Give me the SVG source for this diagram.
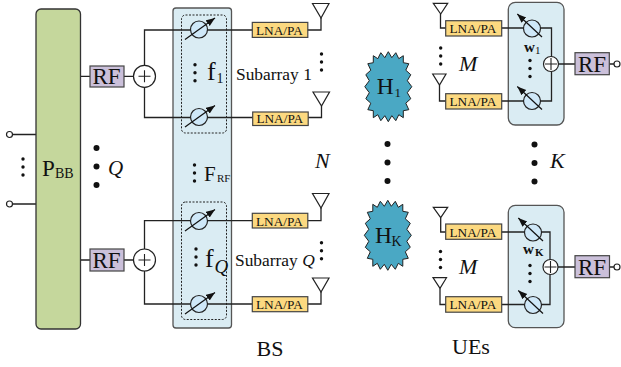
<svg xmlns="http://www.w3.org/2000/svg" width="621" height="367" viewBox="0 0 621 367">
<style>
text{font-family:"Liberation Serif","Times New Roman",serif;fill:#111}
.i{font-style:italic}
.c{fill:none;stroke:#222;stroke-width:1.3}
.panel{fill:#daecf3;stroke:#555;stroke-width:1.3}
.dash{fill:none;stroke:#222;stroke-width:1;stroke-dasharray:2 1.5}
.rf{fill:#cbc0da;stroke:#444;stroke-width:1.2}
.lna{fill:#fcd980;stroke:#444;stroke-width:1.2}
.ant{fill:#fff;stroke:#222;stroke-width:1.2}
.sum{fill:#fff;stroke:#222;stroke-width:1.2}
.ps{fill:#cfe8f8;stroke:#222;stroke-width:1.2}
.pa{stroke:#111;stroke-width:1.2;fill:none}
.port{fill:#fff;stroke:#222;stroke-width:1.2}
.star{fill:#4aa8c4;stroke:#222;stroke-width:1}
.rft{font-size:23px}
.lt{font-size:13.3px}
.sub{font-size:17.4px}
</style>
<defs>
<marker id="ah" markerUnits="userSpaceOnUse" markerWidth="10" markerHeight="8" refX="9" refY="3.5" orient="auto"><path d="M0 0L9 3.5L0 7Z" fill="#111"/></marker>
<polygon id="star" class="star" points="0,-35 3.5,-29 7.5,-34 10.5,-28 15,-31 15,-24 20.5,-23 17.5,-16.5 22.5,-12 19,-6 23.5,0 19,6 22.5,12 17.5,16.5 20.5,23 15,24 15,31 10.5,28 7.5,34 3.5,29 0,35 -3.5,29 -7.5,34 -10.5,28 -15,31 -15,24 -20.5,23 -17.5,16.5 -22.5,12 -19,6 -23.5,0 -19,-6 -22.5,-12 -17.5,-16.5 -20.5,-23 -15,-24 -15,-31 -10.5,-28 -7.5,-34 -3.5,-29"/>
<g id="psbs"><circle class="ps" r="8.5"/><line class="pa" x1="-14" y1="10" x2="16" y2="-11.5" marker-end="url(#ah)"/></g>
<g id="psue"><circle class="ps" r="8.5"/><line class="pa" x1="10" y1="8.5" x2="-14.7" y2="-14.5" marker-end="url(#ah)"/></g>
<g id="d3"><circle cy="-8" r="1.7" fill="#111"/><circle r="1.7" fill="#111"/><circle cy="8" r="1.7" fill="#111"/></g>
<g id="d3l"><circle cy="-18.5" r="3" fill="#111"/><circle r="3" fill="#111"/><circle cy="18.5" r="3" fill="#111"/></g>
<path id="plus" d="M-6 0H6M0 -6V6" stroke="#222" stroke-width="1.1" fill="none"/>
</defs>

<g id="panels">
<rect id="bs-panel" class="panel" x="173" y="8" width="58.5" height="320" rx="3"/>
<rect id="ue1-panel" class="panel" x="508.3" y="2.3" width="55.7" height="122.7" rx="7"/>
<rect id="ue2-panel" class="panel" x="508.3" y="205.3" width="55.7" height="122.4" rx="7"/>
</g>

<g id="connectors">
<path class="c" d="M12.5 134.5H36M12.5 204H36M80 76.3H90M124 76.3H134M80 260H90M124 260H134"/>
<path class="c" d="M321 18V30H144.5V117.5H321.5V106"/>
<path class="c" d="M321 208V220.7H144.5V304H321V292"/>
<path class="c" d="M440.5 14V28H551.5V101H446"/>
<path class="c" d="M439.5 85V101H446"/>
<path class="c" d="M558.5 64H575M609.3 64H614"/>
<path class="c" d="M440.7 217.7V232H550V304.5H446"/>
<path class="c" d="M440 288.3V304.5H446"/>
<path class="c" d="M558 267H575M609.5 267H614"/>
</g>

<g id="pbb"><rect x="36" y="9" width="44.5" height="320" rx="5" fill="#c5d79c" stroke="#333" stroke-width="1.3"/>
<text x="42" y="176" font-size="23">P</text><text x="55" y="178" font-size="14">BB</text></g>
<g id="port1"><circle class="port" cx="9.5" cy="134.5" r="3"/></g>
<g id="port2"><circle class="port" cx="9.5" cy="204" r="3"/></g>
<use href="#d3" x="23" y="167"/>
<g id="rf1"><rect class="rf" x="90" y="66" width="34" height="21"/><text class="rft" x="92.5" y="84">RF</text></g>
<g id="rf2"><rect class="rf" x="90" y="249" width="34" height="22"/><text class="rft" x="92.5" y="267.5">RF</text></g>
<g id="sum1"><circle class="sum" cx="144.5" cy="76.3" r="11"/><use href="#plus" x="144.5" y="76.3"/></g>
<g id="sum2"><circle class="sum" cx="144.5" cy="260" r="11"/><use href="#plus" x="144.5" y="260"/></g>
<use href="#d3l" x="96.5" y="166.5"/>
<text class="i" x="108" y="175" font-size="21">Q</text>

<g id="f1-group"><rect class="dash" x="181.5" y="15" width="45" height="118" rx="4"/>
<use href="#psbs" x="199" y="29.5"/><use href="#psbs" x="199" y="117"/>
<use href="#d3" x="195" y="72.7"/>
<text x="207" y="80" font-size="26">f</text><text x="216.5" y="82.7" font-size="14">1</text></g>
<g id="frf"><use href="#d3" x="194.5" y="173"/><text x="204" y="181" font-size="21">F</text><text x="217" y="182" font-size="11">RF</text></g>
<g id="fq-group"><rect class="dash" x="181.5" y="202" width="45" height="117.5" rx="4"/>
<use href="#psbs" x="199" y="221"/><use href="#psbs" x="199" y="304"/>
<use href="#d3" x="196" y="257"/>
<text x="205" y="267" font-size="26">f</text><text class="i" x="214.5" y="272.7" font-size="19">Q</text></g>

<g id="lna1"><rect class="lna" x="252.3" y="22.4" width="55.5" height="15"/><text class="lt" x="256" y="34.5">LNA/PA</text></g>
<g id="lna2"><rect class="lna" x="252.7" y="112" width="55.5" height="13.5"/><text class="lt" x="256.4" y="123">LNA/PA</text></g>
<g id="lna3"><rect class="lna" x="252.3" y="213.3" width="55.5" height="14.7"/><text class="lt" x="256" y="225.5">LNA/PA</text></g>
<g id="lna4"><rect class="lna" x="252.3" y="296.7" width="55.5" height="15"/><text class="lt" x="256" y="309">LNA/PA</text></g>
<g id="ant1"><path class="ant" d="M312.5 3.5H329L321 18Z"/></g>
<g id="ant2"><path class="ant" d="M313 92H329.5L321.5 106Z"/></g>
<g id="ant3"><path class="ant" d="M312.5 193.5H329L321 208Z"/></g>
<g id="ant4"><path class="ant" d="M312.5 278H329L321 292Z"/></g>
<use href="#d3" x="321.5" y="62"/><use href="#d3" x="321.5" y="250.7"/>
<text class="sub" x="236" y="80">Subarray 1</text>
<text class="sub" x="235" y="266">Subarray <tspan class="i">Q</tspan></text>
<text class="i" x="315" y="168" font-size="22">N</text>

<g id="h1"><use href="#star" x="388.3" y="86.7"/><text x="376.7" y="94.3" font-size="23.5">H</text><text x="394.5" y="96.7" font-size="13">1</text></g>
<g id="hk"><use href="#star" x="387.8" y="235.3"/><text x="375" y="242.7" font-size="23.5">H</text><text x="391.5" y="246" font-size="14">K</text></g>
<use href="#d3l" x="387.5" y="162.5"/>

<g id="ue1"><use href="#psue" x="532" y="28.5"/><use href="#psue" x="532" y="101"/>
<text x="524" y="52" font-size="15" font-weight="bold">w</text><text x="535" y="54" font-size="11">1</text>
<use href="#d3" x="530" y="68.5"/>
<circle class="sum" cx="551" cy="64" r="7.5"/><use href="#plus" x="551" y="64"/></g>
<g id="ue2"><use href="#psue" x="533" y="232.5"/><use href="#psue" x="533" y="305"/>
<text x="523" y="254" font-size="15" font-weight="bold">w</text><text x="535" y="256" font-size="11" font-weight="bold">K</text>
<use href="#d3" x="530" y="273.5"/>
<circle class="sum" cx="550.5" cy="267" r="7.5"/><use href="#plus" x="550.5" y="267"/></g>

<g id="lna5"><rect class="lna" x="445.7" y="20.7" width="56" height="15.3"/><text class="lt" x="449.5" y="33">LNA/PA</text></g>
<g id="lna6"><rect class="lna" x="445.7" y="93.7" width="56" height="15.3"/><text class="lt" x="449.5" y="106">LNA/PA</text></g>
<g id="lna7"><rect class="lna" x="445.7" y="224" width="56" height="15.3"/><text class="lt" x="449.5" y="236.5">LNA/PA</text></g>
<g id="lna8"><rect class="lna" x="445.7" y="296.7" width="56" height="15.5"/><text class="lt" x="449.5" y="309">LNA/PA</text></g>
<g id="ant5"><path class="ant" d="M433.3 3.3H447.7L440.7 14Z"/></g>
<g id="ant6"><path class="ant" d="M432.7 74H446L439.5 85Z"/></g>
<g id="ant7"><path class="ant" d="M433.3 207.3H447.7L440.7 217.7Z"/></g>
<g id="ant8"><path class="ant" d="M433 277.7H446.5L440 288.3Z"/></g>
<use href="#d3" x="440.7" y="56"/><use href="#d3" x="440.5" y="259.5"/>
<text class="i" x="459" y="70.7" font-size="22">M</text>
<text class="i" x="459" y="274" font-size="22">M</text>

<g id="rf3"><rect class="rf" x="575" y="52.7" width="34.3" height="22"/><text class="rft" x="578" y="71.5">RF</text></g>
<g id="rf4"><rect class="rf" x="575" y="255.7" width="34.5" height="22"/><text class="rft" x="578" y="274.5">RF</text></g>
<g id="port3"><circle class="port" cx="617" cy="64" r="3"/></g>
<g id="port4"><circle class="port" cx="617" cy="267" r="3"/></g>
<use href="#d3l" x="534.5" y="163"/>
<text class="i" x="550" y="168" font-size="22">K</text>
<text x="256.5" y="356" font-size="22">BS</text>
<text x="452" y="354" font-size="22">UEs</text>
</svg>
